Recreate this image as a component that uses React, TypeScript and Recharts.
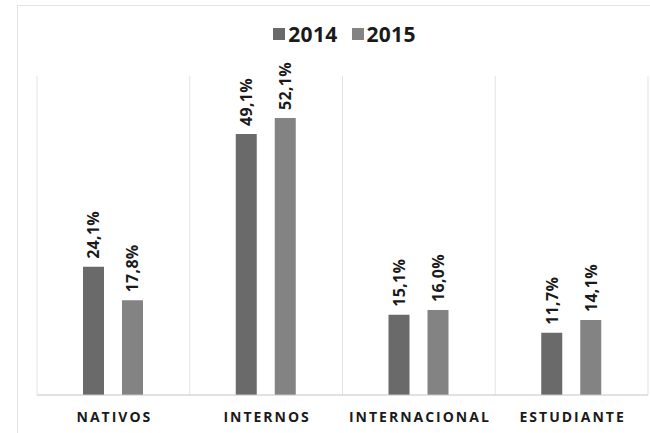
import { BarChart, Bar, XAxis, YAxis, CartesianGrid, Legend, LabelList } from 'recharts';

const categories = ['NATIVOS', 'INTERNOS', 'INTERNACIONAL', 'ESTUDIANTE'];
const values2014 = [24.1, 49.1, 15.1, 11.7];
const values2015 = [17.8, 52.1, 16.0, 14.1];
const seriesNames = ['2014', '2015'];
const seriesColors = ['#6a6a6a', '#838383'];

const data = categories.map((name, i) => ({
  name,
  y2014: values2014[i],
  y2015: values2015[i],
}));

const fmt = (v: number) => `${v.toFixed(1).replace('.', ',')}%`;

// etiqueta vertical encima de cada barra
function VerticalLabel(props: any) {
  const { x, y, width, value } = props;
  const cx = x + width / 2;
  const by = y - 8;
  return (
    <text
      x={cx}
      y={by}
      transform={`rotate(-90, ${cx}, ${by})`}
      textAnchor="start"
      dominantBaseline="central"
      fontSize={16}
      fontWeight={700}
      letterSpacing={0.3}
      fill="#1a1a1a"
    >
      {fmt(value)}
    </text>
  );
}

function LegendContent(props: any) {
  const { payload } = props;
  return (
    <div style={{ display: 'flex', justifyContent: 'center', alignItems: 'center', height: 26, gap: 14, paddingLeft: 4 }}>
      {(payload || []).map((p: any) => (
        <div key={p.value} style={{ display: 'flex', alignItems: 'center', gap: 3 }}>
          <span style={{ width: 12, height: 12, background: p.color, display: 'inline-block' }} />
          <span style={{ fontSize: 21, fontWeight: 700, color: '#1a1a1a', letterSpacing: 0.3 }}>{p.value}</span>
        </div>
      ))}
    </div>
  );
}

function CategoryTick(props: any) {
  const { x, y, payload } = props;
  return (
    <text x={x + 1} y={y + 19} textAnchor="middle" fontSize={14} fontWeight={700} letterSpacing={2} fill="#1a1a1a">
      {payload.value}
    </text>
  );
}

export default function App() {
  return (
    <div style={{ position: 'absolute', left: 0, top: 0, width: 650, height: 433, background: '#fff', fontFamily: '"Open Sans", sans-serif' }}>
      <div style={{ position: 'absolute', left: 17, top: 5, right: 0, bottom: 0, borderLeft: '1px solid #e4e4e4', borderTop: '1px solid #e4e4e4' }} />
      <BarChart
        width={650}
        height={433}
        data={data}
        margin={{ top: 50, right: 2, left: 37, bottom: 0 }}
        barSize={21}
        barGap={18}
      >
        <CartesianGrid
          horizontal={false}
          stroke="#e3e3e3"
          verticalCoordinatesGenerator={({ offset }: any) =>
            [0, 1, 2, 3, 4].map((i) => offset.left + (i * offset.width) / 4)
          }
        />
        <XAxis
          dataKey="name"
          height={38}
          tickLine={false}
          axisLine={{ stroke: '#c4c4c4' }}
          tick={<CategoryTick />}
          interval={0}
        />
        <YAxis hide domain={[0, 60]} />
        <Legend verticalAlign="top" wrapperStyle={{ top: 21 }} content={<LegendContent />} />
        <Bar dataKey="y2014" name={seriesNames[0]} fill={seriesColors[0]} isAnimationActive={false}>
          <LabelList dataKey="y2014" content={<VerticalLabel />} />
        </Bar>
        <Bar dataKey="y2015" name={seriesNames[1]} fill={seriesColors[1]} isAnimationActive={false}>
          <LabelList dataKey="y2015" content={<VerticalLabel />} />
        </Bar>
      </BarChart>
    </div>
  );
}
